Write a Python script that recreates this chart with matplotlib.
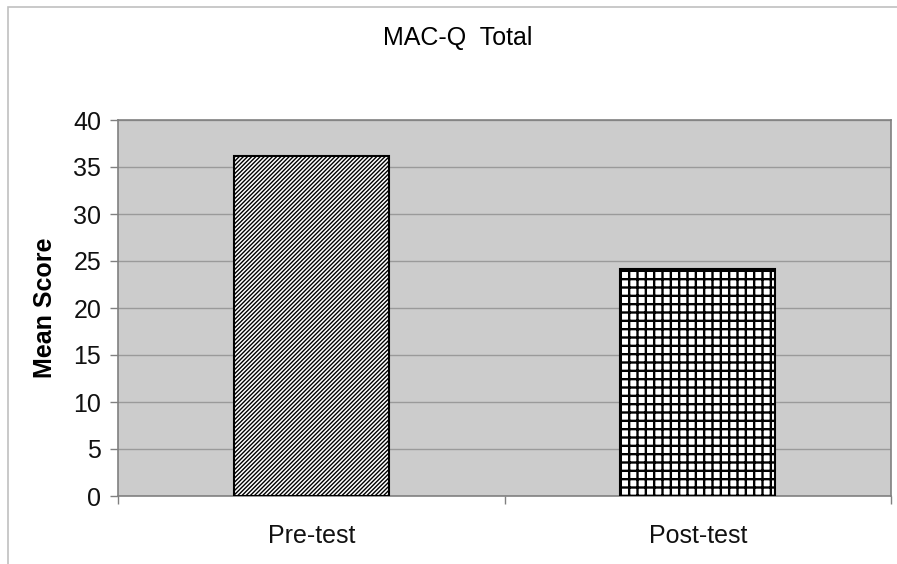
import matplotlib.pyplot as plt
from matplotlib.patches import Rectangle
import matplotlib as mpl

mpl.rcParams['font.family'] = ['Liberation Sans', 'DejaVu Sans']
mpl.rcParams['hatch.linewidth'] = 1.5

categories = ["Pre-test", "Post-test"]
mean_scores = [36.2, 24.1]
hatches = ["////////", "++"]
hatch_widths = [1.0, 1.7]
y_ticks = [0, 5, 10, 15, 20, 25, 30, 35, 40]

fig = plt.figure(figsize=(8.97, 5.64), dpi=100)

# outer chart frame (extends past the image on right/bottom)
fig.patches.append(Rectangle((8 / 897, -0.1), 1.2, 1 - 7 / 564 + 0.1,
                             transform=fig.transFigure, fill=False,
                             edgecolor="#c0c0c0", linewidth=1.2))

ax = fig.add_axes([118 / 897, 1 - 496 / 564, (891 - 118) / 897, (496 - 120) / 564])
ax.set_facecolor("#cccccc")

xs = list(range(len(categories)))
for x, v, h, hw in zip(xs, mean_scores, hatches, hatch_widths):
    bars = ax.bar(x, v, width=0.4, color="white", edgecolor="black",
                  hatch=h, linewidth=1.5, zorder=3)
    for b in bars:
        if hasattr(b, "set_hatch_linewidth"):
            b.set_hatch_linewidth(hw)

ax.set_xlim(-0.5, len(categories) - 0.5)
ax.set_ylim(0, 40)
ax.set_yticks(y_ticks)
ax.yaxis.grid(True, color="#9a9a9a", linewidth=1.0, zorder=0)
ax.set_axisbelow(True)

ax.set_xticks(xs)
ax.set_xticklabels(categories)
ax.set_xticks([x - 0.5 for x in xs] + [xs[-1] + 0.5], minor=True)
ax.tick_params(axis="x", which="major", length=0, pad=20, labelsize=18, labelcolor="#111111")
ax.tick_params(axis="x", which="minor", length=6, color="#808080", width=1)
ax.tick_params(axis="y", length=6, color="#808080", width=1, labelsize=18, pad=6,
               labelcolor="#111111")

for s in ax.spines.values():
    s.set_color("#808080")
    s.set_linewidth(1.2)

ax.set_ylabel("Mean Score", fontsize=18, fontweight="bold", labelpad=12)
fig.text(458 / 897, 1 - 38 / 564, "MAC-Q  Total", ha="center", va="center", fontsize=18)

plt.savefig("out.png", dpi=100)
